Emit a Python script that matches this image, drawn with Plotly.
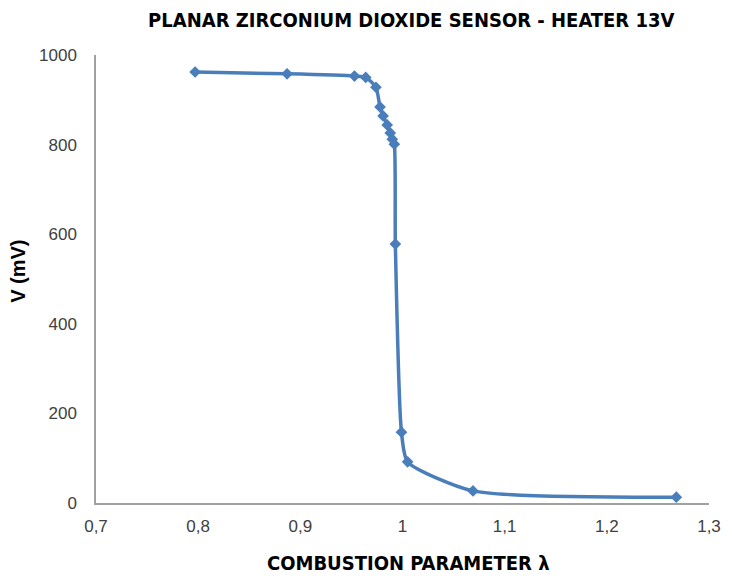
import plotly.graph_objects as go

# lambda values and sensor voltage
lam = [0.797, 0.887, 0.953, 0.964, 0.974, 0.978, 0.981, 0.985, 0.988, 0.990, 0.992,
       0.993, 0.999, 1.005, 1.069, 1.268]
volt = [962, 958, 953, 950, 928, 884, 864, 844, 826, 812, 801,
        578, 158, 92, 27, 13]

x_ticks = [0.7, 0.8, 0.9, 1.0, 1.1, 1.2, 1.3]
x_labels = ['0,7', '0,8', '0,9', '1', '1,1', '1,2', '1,3']
y_ticks = [0, 200, 400, 600, 800, 1000]

blue = '#4a7ebb'
cond = 'DejaVu Sans Condensed, DejaVu Sans, sans-serif'
plain = 'Liberation Sans, Arial, sans-serif'

fig = go.Figure()
fig.add_trace(go.Scatter(x=lam, y=volt, mode='lines+markers',
                         line=dict(color=blue, width=3.5, shape='spline', smoothing=0.6),
                         marker=dict(symbol='diamond', size=9, color=blue)))

# page body has an 8px margin at top/left, so the figure is shifted by that much
fig.update_layout(
    width=724, height=571, autosize=False,
    margin=dict(l=88, r=23, t=47, b=76),
    plot_bgcolor='white', paper_bgcolor='white',
    showlegend=False,
    title=dict(text='<b>PLANAR ZIRCONIUM DIOXIDE SENSOR - HEATER 13V</b>',
               x=0.557, xanchor='center', y=0.9785, yanchor='middle',
               font=dict(family=cond, size=20, color='black')),
)
# axis titles as annotations so they sit exactly where the reference has them
fig.add_annotation(text='<b>COMBUSTION PARAMETER λ</b>', xref='paper', yref='paper',
                   x=0.51, y=0, yanchor='middle', yshift=-60, showarrow=False,
                   font=dict(family=cond, size=20, color='black'))
fig.add_annotation(text='<b>V (mV)</b>', xref='paper', yref='paper', textangle=-90,
                   x=0, y=0.516, xanchor='center', xshift=-78, showarrow=False,
                   font=dict(family=plain, size=20, color='black'))

fig.update_xaxes(range=[0.7, 1.3], tickvals=x_ticks, ticktext=x_labels,
                 showgrid=False, zeroline=False, showline=True, automargin=False,
                 linecolor='#a0a0a0', linewidth=1.5, ticks='', ticklabelstandoff=7,
                 tickfont=dict(family=plain, size=17, color='#404040'))
fig.update_yaxes(range=[0, 1000], tickvals=y_ticks,
                 showgrid=False, zeroline=False, showline=True, automargin=False,
                 linecolor='#a0a0a0', linewidth=1.5, ticks='', ticklabelstandoff=14,
                 tickfont=dict(family=plain, size=17, color='#404040'))

fig.write_html("out.html")
